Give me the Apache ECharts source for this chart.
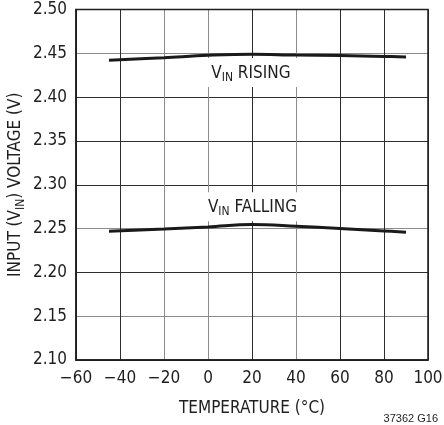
<!DOCTYPE html>
<html><head><meta charset="utf-8">
<script src="https://cdn.jsdelivr.net/npm/echarts@6/dist/echarts.min.js"></script>
<style>html,body{margin:0;padding:0;background:#fff}#c{width:444px;height:425px}</style>
</head><body><div id="c"></div>
<script>
const temps = [-45, -20, 0, 20, 40, 60, 80, 90];
const vinRising = [2.442, 2.445, 2.4477, 2.449, 2.448, 2.4475, 2.4465, 2.4458];
const vinFalling = [2.247, 2.2495, 2.2518, 2.2545, 2.2526, 2.250, 2.2473, 2.2458];
const risingLabelAt = [19.5, 2.428];
const fallingLabelAt = [20.2, 2.275];
const xTicks = [-60, -40, -20, 0, 20, 40, 60, 80, 100];
const yTicks = [2.10, 2.15, 2.20, 2.25, 2.30, 2.35, 2.40, 2.45, 2.50];
const figId = '37362 G16';

const FONT = '"DejaVu Sans Condensed", "Liberation Sans Narrow", sans-serif';
const INK = '#1e1e1e', DARK = '#2e2e2e', GRAY = '#8c8c8c';
const rich = {
  v: {fontFamily: FONT, fontSize: 17, color: INK, lineHeight: 20},
  s: {fontFamily: FONT, fontSize: 12, color: INK, lineHeight: 12, padding: [9, 0, 0, 0]}
};
function pair(xs, ys) { return xs.map((x, i) => [x, ys[i]]); }
function labelSeries(coord, text) {
  return {
    type: 'scatter', data: [coord], symbolSize: 1, silent: true, z: 4,
    itemStyle: {color: '#ffffff', opacity: 1},
    label: {show: true, position: 'inside', formatter: text, rich: rich, color: INK,
      textBorderWidth: 0, backgroundColor: '#fff', padding: [5, 7, 4, 7]},
    emphasis: {disabled: true}
  };
}
const chart = echarts.init(document.getElementById('c'));
chart.setOption({
  animation: false,
  backgroundColor: '#fff',
  grid: {left: 76, right: 16, top: 9.5, bottom: 65, show: true, borderColor: '#1e1e1e', borderWidth: 1.5, z: 3,
    outerBoundsMode: 'none', containLabel: false},
  xAxis: {
    type: 'value', min: xTicks[0], max: xTicks[xTicks.length - 1], interval: 20,
    axisLine: {show: true, onZero: false, lineStyle: {color: INK, width: 1.5}},
    axisTick: {show: false},
    axisLabel: {fontFamily: FONT, fontSize: 17, color: INK, margin: 10,
      formatter: v => String(v).replace('-', '\u2212')},
    splitLine: {show: true, showMinLine: true, showMaxLine: true,
      lineStyle: {width: 1, color: [DARK, DARK, GRAY, GRAY, DARK, GRAY, DARK, DARK, DARK]}},
    name: 'TEMPERATURE (°C)', nameLocation: 'middle', nameGap: 40, nameMoveOverlap: false,
    nameTextStyle: {fontFamily: FONT, fontSize: 17, color: INK}
  },
  yAxis: {
    type: 'value', min: yTicks[0], max: yTicks[yTicks.length - 1], interval: 0.05,
    axisLine: {show: true, onZero: false, lineStyle: {color: INK, width: 1.5}},
    axisTick: {show: false},
    axisLabel: {fontFamily: FONT, fontSize: 17, color: INK, margin: 9,
      formatter: v => v.toFixed(2)},
    splitLine: {show: true, showMinLine: true, showMaxLine: true,
      lineStyle: {width: 1, color: [DARK, GRAY, DARK, GRAY, DARK, DARK, DARK, GRAY, DARK]}},
    name: '{v|INPUT (V}{s|IN}{v|) VOLTAGE (V)}', nameLocation: 'middle', nameGap: 50, nameMoveOverlap: false,
    nameTextStyle: {rich: rich, color: INK}
  },
  series: [
    {type: 'line', data: pair(temps, vinRising), smooth: 0.4, symbol: 'none',
      lineStyle: {color: '#1a1a1a', width: 3}, z: 5},
    {type: 'line', data: pair(temps, vinFalling), smooth: 0.4, symbol: 'none',
      lineStyle: {color: '#1a1a1a', width: 3}, z: 5},
    labelSeries(risingLabelAt, '{v|V}{s|IN}{v| RISING}'),
    labelSeries(fallingLabelAt, '{v|V}{s|IN}{v| FALLING}')
  ],
  graphic: [{type: 'text', right: 6, top: 413,
    style: {text: figId, fontFamily: '"Liberation Sans", sans-serif', fontSize: 11, fill: INK}}]
});
</script></body></html>
